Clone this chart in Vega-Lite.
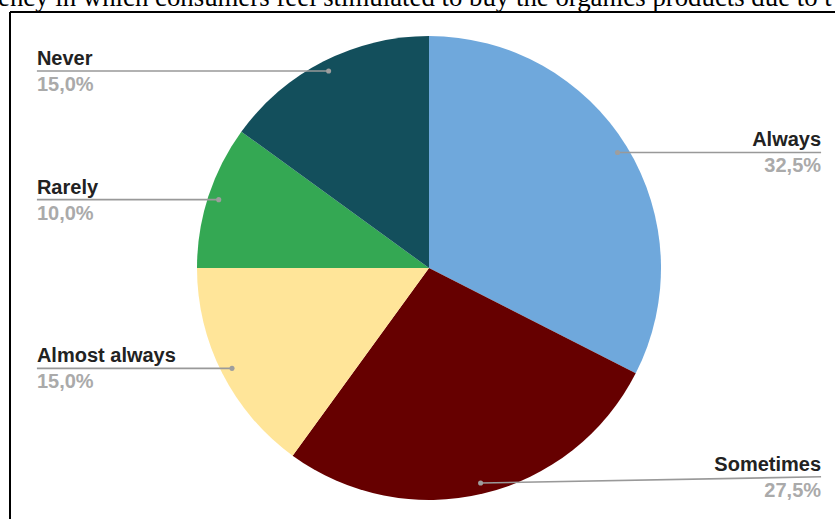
{
  "$schema": "https://vega.github.io/schema/vega-lite/v6.json",
  "width": 825,
  "height": 507,
  "padding": {"left": 10, "top": 12, "right": 0, "bottom": 0},
  "autosize": {"type": "none"},
  "background": "white",
  "config": {"view": {"stroke": null}},
  "title": {
    "text": "ency in which consumers feel stimulated to buy the organics products due to t",
    "anchor": "start",
    "frame": "group",
    "font": "Liberation Serif",
    "fontSize": 26.8,
    "fontWeight": "normal",
    "color": "black",
    "baseline": "alphabetic",
    "offset": 0,
    "dy": 22,
    "dx": -12
  },
  "data": {
    "values": [
      {"answer": "Always", "value": 32.5, "order": 1},
      {"answer": "Sometimes", "value": 27.5, "order": 2},
      {"answer": "Almost always", "value": 15.0, "order": 3},
      {"answer": "Rarely", "value": 10.0, "order": 4},
      {"answer": "Never", "value": 15.0, "order": 5}
    ]
  },
  "transform": [
    {"window": [{"op": "sum", "field": "value", "as": "cum"}], "sort": [{"field": "order", "order": "ascending"}], "frame": [null, 0]},
    {"calculate": "(datum.cum - datum.value / 2) / 100 * 2 * PI", "as": "mid"},
    {"calculate": "95.3 * sin(datum.mid)", "as": "dotX"},
    {"calculate": "95.3 * cos(datum.mid)", "as": "dotY"},
    {"calculate": "datum.dotX > 0 ? 169 : -169", "as": "labelX"},
    {"calculate": "max(datum.dotY, -90)", "as": "lineY"},
    {"calculate": "replace(format(datum.value, '.1f'), '.', ',') + '%'", "as": "pct"}
  ],
  "layer": [
    {
      "mark": {"type": "arc", "outerRadius": 232, "stroke": null},
      "encoding": {
        "x": {"datum": 0, "type": "quantitative", "scale": {"domain": [-180.6, 175.0], "nice": false, "zero": false}, "axis": null},
        "y": {"datum": 0, "type": "quantitative", "scale": {"domain": [-108.19, 110.34], "nice": false, "zero": false}, "axis": null},
        "theta": {"field": "value", "type": "quantitative", "stack": true},
        "order": {"field": "order", "type": "quantitative"},
        "color": {
          "field": "answer",
          "type": "nominal",
          "scale": {
            "domain": ["Always", "Sometimes", "Almost always", "Rarely", "Never"],
            "range": ["#6fa8dc", "#660000", "#ffe599", "#34a853", "#134f5c"]
          },
          "legend": null
        }
      }
    },
    {
      "mark": {"type": "rule", "color": "#999999", "strokeWidth": 1.6},
      "encoding": {
        "x": {"field": "dotX", "type": "quantitative", "axis": null},
        "y": {"field": "dotY", "type": "quantitative", "axis": null},
        "x2": {"field": "labelX"},
        "y2": {"field": "lineY"}
      }
    },
    {
      "mark": {"type": "circle", "color": "#9e9e9e", "opacity": 1, "size": 26},
      "encoding": {
        "x": {"field": "dotX", "type": "quantitative", "axis": null},
        "y": {"field": "dotY", "type": "quantitative", "axis": null}
      }
    },
    {
      "mark": {
        "type": "text",
        "font": "Liberation Sans",
        "fontSize": 20,
        "fontWeight": "bold",
        "color": "#222222",
        "baseline": "alphabetic",
        "dy": -6,
        "align": {"expr": "datum.labelX > 0 ? 'right' : 'left'"}
      },
      "encoding": {
        "x": {"field": "labelX", "type": "quantitative", "axis": null},
        "y": {"field": "lineY", "type": "quantitative", "axis": null},
        "text": {"field": "answer"}
      }
    },
    {
      "mark": {
        "type": "text",
        "font": "Liberation Sans",
        "fontSize": 20,
        "fontWeight": "bold",
        "color": "#aaaaaa",
        "baseline": "alphabetic",
        "dy": 20,
        "align": {"expr": "datum.labelX > 0 ? 'right' : 'left'"}
      },
      "encoding": {
        "x": {"field": "labelX", "type": "quantitative", "axis": null},
        "y": {"field": "lineY", "type": "quantitative", "axis": null},
        "text": {"field": "pct"}
      }
    },
    {
      "data": {"values": [{"edge": "left"}]},
      "mark": {"type": "rule", "color": "black", "strokeWidth": 2},
      "encoding": {
        "x": {"datum": -180.6, "type": "quantitative", "axis": null}
      }
    },
    {
      "data": {"values": [{"edge": "top"}]},
      "mark": {"type": "rule", "color": "black", "strokeWidth": 2},
      "encoding": {
        "y": {"datum": 110.34, "type": "quantitative", "axis": null}
      }
    }
  ]
}
